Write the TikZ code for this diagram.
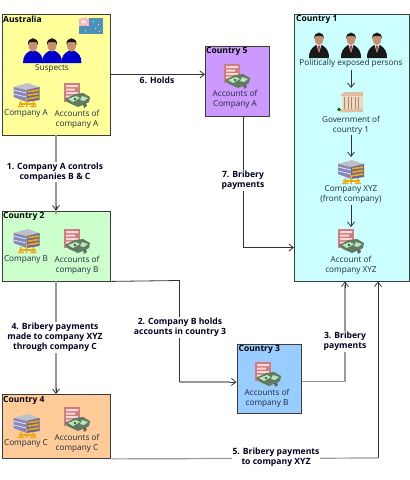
\documentclass[tikz,border=0pt]{standalone}
\usepackage{fontspec}
\setmainfont{Open Sans}
\usetikzlibrary{arrows.meta,calc}
\definecolor{lnk}{HTML}{333333}
\definecolor{lnkg}{HTML}{999999}
\definecolor{boxl}{HTML}{3C3C3C}
\definecolor{txt}{HTML}{1F2A3A}
\definecolor{fyel}{HTML}{FFFF99}
\definecolor{fgrn}{HTML}{CCFFCC}
\definecolor{forg}{HTML}{FFCC99}
\definecolor{fpur}{HTML}{CC99FF}
\definecolor{fcyn}{HTML}{CCFFFF}
\definecolor{fblu}{HTML}{99CCFF}
\definecolor{bor}{HTML}{F0A818}
\definecolor{skin}{HTML}{C89070}
\tikzset{
  box/.style={draw=boxl,line width=0.9pt,anchor=north west,inner sep=0pt},
  title/.style={anchor=west,inner sep=0pt,font=\fontsize{8.5}{9}\selectfont\bfseries,text=black},
  captxt/.style={inner sep=0pt,align=center,font=\fontsize{8.2}{10}\selectfont,text=txt},
  lab/.style={fill=white,inner sep=0.8pt,align=center,font=\fontsize{8.6}{10.2}\selectfont\bfseries,text=black!85!blue},
  dk/.style={draw=lnk,line width=0.8pt},
  gy/.style={draw=lnkg,line width=2.3pt},
  gyt/.style={draw=lnkg,line width=1.2pt},
  tip/.style={-{Straight Barb[length=4.5pt,width=7pt]}},
  pics/suspect/.style={code={
    \fill[blue!80!black] (-10,12) .. controls (-10,5) and (-7,2) .. (-3,0) -- (3,0) .. controls (7,2) and (10,5) .. (10,12) -- cycle;
    \fill[skin] (0,-6) ellipse (4.5 and 6.5);
    \fill[black!85!brown] (-5,-6) .. controls (-6,-15) and (6,-15) .. (5,-6) -- (3.5,-9) -- (-3.5,-9) -- cycle;
  }},
  pics/pep/.style={code={
    \fill[black!90] (-10,13) .. controls (-10,5) and (-7,3) .. (-3,0) -- (3,0) .. controls (7,3) and (10,5) .. (10,13) -- cycle;
    \fill[white!70!gray] (-2.5,0) -- (2.5,0) -- (0,8) -- cycle;
    \fill[red!60!black] (-0.8,1) -- (0.8,1) -- (0,8) -- cycle;
    \fill[skin] (0,-6) ellipse (4.2 and 6.2);
    \fill[black!90] (-4.8,-6) .. controls (-5.5,-14.5) and (5.5,-14.5) .. (4.8,-6) -- (3.5,-9) -- (-3.5,-9) -- cycle;
  }},
  pics/bldg/.style={code={
    \fill[blue!10!gray!45] (-13,-8) -- (1,-12) -- (13,-8) -- (0,-5) -- cycle;
    \fill[blue!25!gray!75] (-13,-8) -- (0,-5) -- (0,7) -- (-13,2) -- cycle;
    \foreach \k in {-3,1}{\draw[white!85!blue,line width=0.9pt] (-13,\k-2) -- (0,\k+1);}
    \fill[blue!20!gray] (0,-5) -- (13,-8) -- (13,5) -- (0,7) -- cycle;
    \foreach \k in {-4,-0.5,3}{\fill[bor] (1,\k) -- (12,\k-2) -- (12,\k) -- (1,\k+1.6) -- cycle;}
    \fill[bor] (-8,8) rectangle (9,9.5);
    \fill[bor] (-6.5,6) rectangle (-5,12) (6,6) rectangle (7.5,12) (-0.7,3) rectangle (0.8,12);
    \fill[bor] (-9,10.5) rectangle (-2.5,12.2) (3.5,10.5) rectangle (10,12.2);
  }},
  pics/acct/.style={code={
    \fill[red!45!gray!70!white] (-13,-12) rectangle (3,7);
    \fill[white!85!red] (-11,-10) rectangle (1,-8) (-11,-6.5) rectangle (-2,-4.5) (-11,-3) rectangle (1,-1) (-11,0.5) rectangle (-3,2.5);
    \fill[black!55!green!25!gray] (-12,4) -- (-2,-1) -- (6,-2) -- (13,2) -- (12,7) -- (8,9) -- (1,12) -- (-8,8) -- cycle;
    \fill[white!80!green!80!gray] (-9,4) -- (-1,1) -- (3,3) -- (-4,7) -- cycle;
    \fill[white!80!green!80!gray] (5,1) -- (11,3) -- (7,6) -- (3,5) -- cycle;
    \fill[green!30!black] (-2,4) circle (1.1);
    \fill[black!60] (6,9) -- (9,8) -- (10,11) -- (7,13) -- cycle;
  }},
  pics/gov/.style={code={
    \fill[brown!50!white] (-11,-6) -- (-7,-10) -- (12,-10) -- (12,-6) -- cycle;
    \fill[brown!30!white] (-9,-6) -- (12,-6) -- (12,7) -- (-9,8) -- cycle;
    \foreach \k in {-7,-3.5,0,3.5,7}{\fill[brown!75!black!75] (\k,-5.5) rectangle (\k+1.1,6.5);}
    \fill[brown!50!white] (-11,7.5) -- (12,6.5) -- (12,10) -- (-11,10.5) -- cycle;
    \fill[green!40!black] (-12,7.5) circle (1.8);
  }},
  pics/flag/.style={code={
    \fill[blue!35!cyan!60!black!70!white] (-12,-8) rectangle (12,8.5);
    \fill[red!35!white] (-11.5,-7.5) rectangle (-2,0);
    \draw[white,line width=0.5pt] (-11.5,-7.5) -- (-2,0) (-11.5,0) -- (-2,-7.5) (-7,-7.5) -- (-7,0) (-11.5,-3.7) -- (-2,-3.7);
    \foreach \p in {(3,-4),(8,-1),(5,3),(9,6),(-5,5)}{\fill[white] \p circle (0.5);}
  }}
}
\begin{document}
\begin{tikzpicture}[x=1pt,y=-1pt]
\useasboundingbox (0,0) rectangle (410,480);
% boxes
\node[box,fill=fyel,minimum width=108pt,minimum height=121pt] (aus) at (1.5,13.5) {};
\node[box,fill=fgrn,minimum width=108pt,minimum height=70pt] (ctwo) at (1.5,210.5) {};
\node[box,fill=forg,minimum width=108pt,minimum height=64pt] (cfour) at (1.5,394) {};
\node[box,fill=fpur,minimum width=64pt,minimum height=70pt] (cfive) at (205,45.5) {};
\node[box,fill=fcyn,minimum width=115pt,minimum height=267pt] (cone) at (294,13.5) {};
\node[box,fill=fblu,minimum width=64pt,minimum height=69pt] (cthree) at (236.5,344) {};
% titles
\node[title] (taus) at (3,19) {Australia};
\node[title] (ttwo) at (3,216) {Country 2};
\node[title] (tfour) at (3,400) {Country 4};
\node[title] (tfive) at (206,51) {Country 5};
\node[title] (tone) at (296,19) {Country 1};
\node[title] (tthree) at (238.5,349) {Country 3};
% Australia content
\pic at (90.5,25.5) {flag};
\pic at (33,51) {suspect};
\pic at (52,51) {suspect};
\pic at (71.5,51) {suspect};
\node[captxt] (csus) at (52,69) {Suspects};
\pic at (26.5,95) {bldg};
\pic at (77,95) {acct};
\node[captxt] (cca) at (26,114) {Company A};
\node[captxt] (caa) at (77,119) {Accounts of\\company A};
% Country 2
\pic at (26.5,241) {bldg};
\pic at (77,241) {acct};
\node[captxt] (ccb) at (26,260) {Company B};
\node[captxt] (cab) at (77,265) {Accounts of\\company B};
% Country 4
\pic at (26.5,426) {bldg};
\pic at (77,419) {acct};
\node[captxt] (ccc) at (26,444) {Company C};
\node[captxt] (cac) at (77,443) {Accounts of\\company C};
% Country 5
\pic at (237,76) {acct};
\node[captxt] (caa5) at (235,99.5) {Accounts of\\Company A};
% Country 1
\pic at (319,45) {pep};
\pic at (351,45) {pep};
\pic at (377,45) {pep};
\node[captxt] (cpep) at (351,63) {Politically exposed persons};
\pic at (351,102) {gov};
\node[captxt] (cgov) at (351,125) {Government of\\country 1};
\pic at (351,172) {bldg};
\node[captxt] (cxyz) at (351,195) {Company XYZ\\(front company)};
\pic at (351,241) {acct};
\node[captxt] (caxyz) at (351,265) {Account of\\company XYZ};
% Country 3
\pic at (268,374) {acct};
\node[captxt] (cab3) at (267,398) {Accounts of\\company B};
% connectors inside country 1
\draw[dk,tip] (cpep.south) ++(0,3) -- (351,88);
\draw[dk,tip] (cgov.south) ++(0,1) -- (351,157);
\draw[dk,tip] (cxyz.south) ++(0,1) -- (351,227);
% main connectors: grey shaft, then a thin dark barb on its end
\draw[gy] (aus.south) -- ([yshift=-3pt]ctwo.north);
\draw[dk,tip] ([yshift=-1pt]aus.south |- ctwo.north) ++(0,-6) -- (ctwo.north);
\draw[gy] (ctwo.south) -- ([yshift=3pt]cfour.north);
\draw[dk,tip] (ctwo.south |- cfour.north) ++(0,-6) -- (cfour.north);
\draw[dk,tip] (aus.east) ++(1,0) -- (cfive.west |- aus.east);
\coordinate (sevc) at ([xshift=6pt]cfive.south |- 0,247.5);
\draw[dk,tip] ([xshift=6pt]cfive.south) -- (sevc) -- (cone.west |- sevc);
\coordinate (bcor) at (179.5,280.5);
\coordinate (bdn) at (179.5,382);
\draw[dk] (ctwo.south east) ++(1,0) -- (bcor) -- (bdn);
\draw[gyt] (bdn) -- ++(50,0);
\draw[dk,tip] (bdn) ++(50,0) -- (cthree.west |- bdn);
\coordinate (tup) at (345,381.5);
\coordinate (tend) at (345,281.5);
\draw[gyt] (cthree.east |- tup) ++(1,0) -- (tup);
\draw[gy] (tup) -- (345,285);
\draw[dk,tip] (345,288) -- (tend);
\coordinate (fup) at (378,458);
\draw[gyt] (cfour.south east) ++(1,0) -- (fup);
\draw[dk,tip] (fup) -- (378,281.5);
% labels
\node[lab] (l1) at (55,172) {1. Company A controls\\companies B \& C};
\node[lab] (l6) at (157,80.5) {6. Holds};
\node[lab] (l7) at (243,180.5) {7. Bribery\\payments};
\node[lab] (l4) at (55,337.5) {4. Bribery payments\\made to company XYZ\\through company C};
\node[lab] (l2) at (180,327.5) {2. Company B holds\\accounts in country 3};
\node[lab] (l3) at (345,341.5) {3. Bribery\\payments};
\node[lab] (l5) at (276,457.5) {5. Bribery payments\\to company XYZ};
\end{tikzpicture}
\end{document}
